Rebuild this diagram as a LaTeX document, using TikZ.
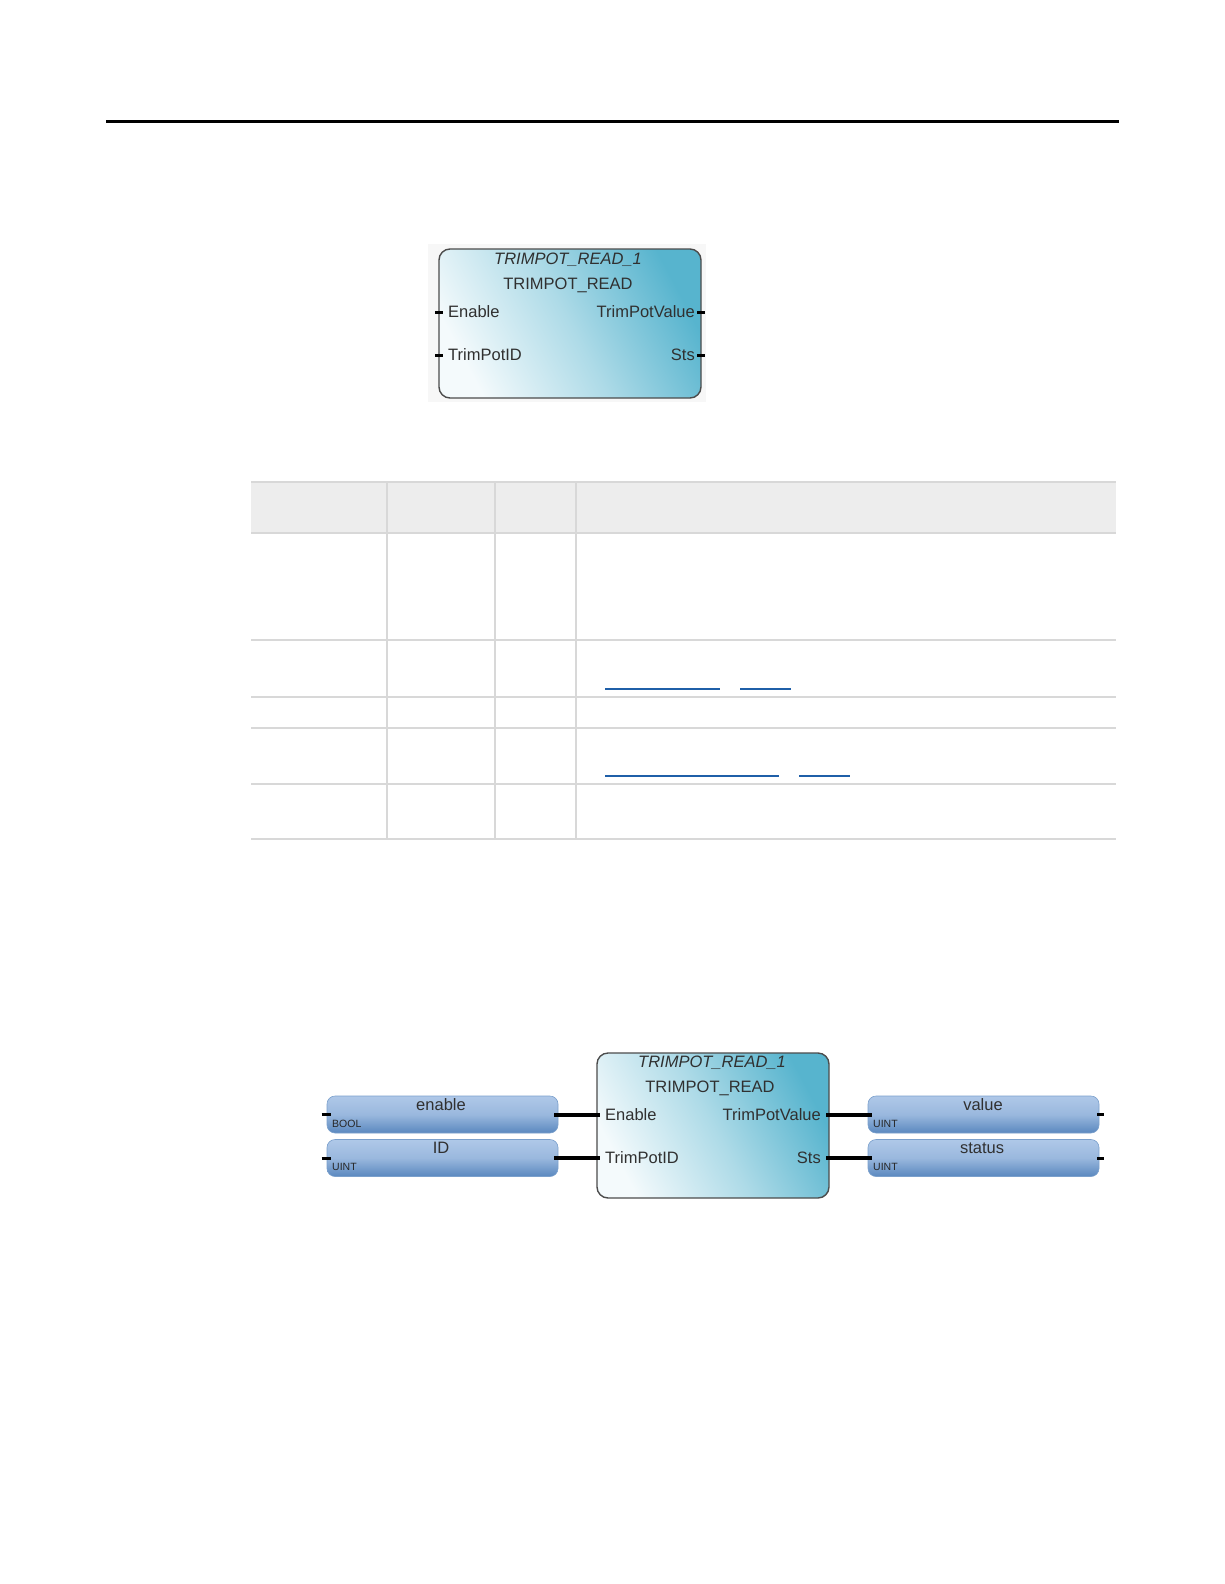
\documentclass[tikz,border=0pt]{standalone}
\usepackage{fontspec}
\setmainfont{Liberation Sans}
\usetikzlibrary{calc}
\definecolor{teal1}{HTML}{57B4CE}
\definecolor{teal0}{HTML}{F4FAFC}
\definecolor{varTop}{HTML}{AFC8E8}
\definecolor{varBot}{HTML}{5A88BF}
\definecolor{gridc}{HTML}{D8D8D8}
\definecolor{headc}{HTML}{EDEDED}
\definecolor{linkc}{HTML}{1F5FA8}
\definecolor{txt}{HTML}{303030}
\tikzset{
  fblock/.style={draw=black!70, line width=1.4pt, rounded corners=11pt,
    top color=teal1, bottom color=teal0, middle color=teal1!45!teal0, shading angle=-62,
    inner sep=0pt},
  varbox/.style={draw=varBot!80, line width=0.6pt, rounded corners=8pt,
    top color=varTop, bottom color=varBot, middle color=varTop!75!varBot,
    minimum width=231pt, minimum height=37pt, inner sep=0pt},
  lbl/.style={font=\fontsize{16.5}{18}\selectfont, text=txt, inner sep=0pt},
  ilbl/.style={font=\fontsize{16.5}{18}\selectfont\itshape, text=txt, inner sep=0pt},
  tlbl/.style={font=\fontsize{10.5}{11}\selectfont, text=txt!80!black, inner sep=0pt},
  wire/.style={line width=3.5pt, black},
  stub/.style={line width=3pt, black},
  grid/.style={draw=gridc, line width=1.3pt},
  link/.style={draw=linkc, line width=1.4pt}
}
\begin{document}
\begin{tikzpicture}[x=1pt, y=-1pt]
\useasboundingbox (0,0) rectangle (1224,1584);
% top rule
\draw[line width=3pt] (106,122) -- (1119,122);

% ---------- top block ----------
\fill[black!3] (428,244) rectangle (706,402);
\node[fblock, minimum width=262pt, minimum height=149pt] (tb) at (570,323.5) {};
\node[ilbl] (tbi) at (568,260) {TRIMPOT\_READ\_1};
\node[lbl] (tbt) at (568,285) {TRIMPOT\_READ};
\coordinate (tEnIn) at (439,312);
\coordinate (tIdIn) at (439,355);
\coordinate (tValOut) at (701,312);
\coordinate (tStsOut) at (701,355);
\node[lbl, anchor=west] (tEn) at (448,312) {Enable};
\node[lbl, anchor=west] (tId) at (448,355) {TrimPotID};
\node[lbl, anchor=east] (tVal) at (695,312) {TrimPotValue};
\node[lbl, anchor=east] (tSts) at (695,355) {Sts};
\draw[stub] ($(tEnIn)+(-4,0)$) -- ($(tEnIn)+(4,0)$);
\draw[stub] ($(tIdIn)+(-4,0)$) -- ($(tIdIn)+(4,0)$);
\draw[stub] ($(tValOut)+(-4,0)$) -- ($(tValOut)+(4,0)$);
\draw[stub] ($(tStsOut)+(-4,0)$) -- ($(tStsOut)+(4,0)$);

% ---------- table ----------
\fill[headc] (251,482) rectangle (1116,533);
\foreach \y in {482,533,640,697,728,784,839} \draw[grid] (251,\y) -- (1116,\y);
\foreach \x in {387,495,576} \draw[grid] (\x,482) -- (\x,839);
\draw[link] (605,689) -- (720,689);
\draw[link] (740,689) -- (791,689);
\draw[link] (605,776) -- (779,776);
\draw[link] (799,776) -- (850,776);

% ---------- bottom diagram ----------
\node[fblock, minimum width=232pt, minimum height=145pt] (bb) at (713,1125.5) {};
\node[ilbl] (bbi) at (712,1063) {TRIMPOT\_READ\_1};
\node[lbl] (bbt) at (710,1088) {TRIMPOT\_READ};
\node[lbl, anchor=west] (bEn) at (605,1115) {Enable};
\node[lbl, anchor=west] (bId) at (605,1158) {TrimPotID};
\node[lbl, anchor=east] (bVal) at (821,1115) {TrimPotValue};
\node[lbl, anchor=east] (bSts) at (821,1158) {Sts};
\coordinate (pEn) at (597,1115);
\coordinate (pId) at (597,1158);
\coordinate (pVal) at (829,1115);
\coordinate (pSts) at (829,1158);

% variables
\node[varbox] (venable) at (442.5,1114.5) {};
\node[varbox] (vid) at (442.5,1158) {};
\node[varbox] (vvalue) at (983.5,1114.5) {};
\node[varbox] (vstatus) at (983.5,1158) {};
\node[lbl] at (441,1105) {enable};
\node[lbl] at (441,1148) {ID};
\node[lbl] at (983,1105) {value};
\node[lbl] at (982,1148) {status};
\node[tlbl, anchor=west] at (332,1124) {BOOL};
\node[tlbl, anchor=west] at (332,1167) {UINT};
\node[tlbl, anchor=west] at (873,1124) {UINT};
\node[tlbl, anchor=west] at (873,1167) {UINT};

% stubs on variables
\draw[stub] ($(venable.west)+(-5,0)$) -- ($(venable.west)+(4,0)$);
\draw[stub] ($(vid.west)+(-5,0)$) -- ($(vid.west)+(4,0)$);
\draw[stub] ($(vvalue.east)+(-2,0)$) -- ($(vvalue.east)+(5,0)$);
\draw[stub] ($(vstatus.east)+(-2,0)$) -- ($(vstatus.east)+(5,0)$);

% wires
\draw[wire] ($(venable.east)+(-4,0.5)$) -- ($(pEn)+(3,0)$);
\draw[wire] ($(vid.east)+(-4,0)$) -- ($(pId)+(3,0)$);
\draw[wire] ($(pVal)+(-3,0)$) -- ($(vvalue.west)+(4,0.5)$);
\draw[wire] ($(pSts)+(-3,0)$) -- ($(vstatus.west)+(4,0)$);
\end{tikzpicture}
\end{document}
